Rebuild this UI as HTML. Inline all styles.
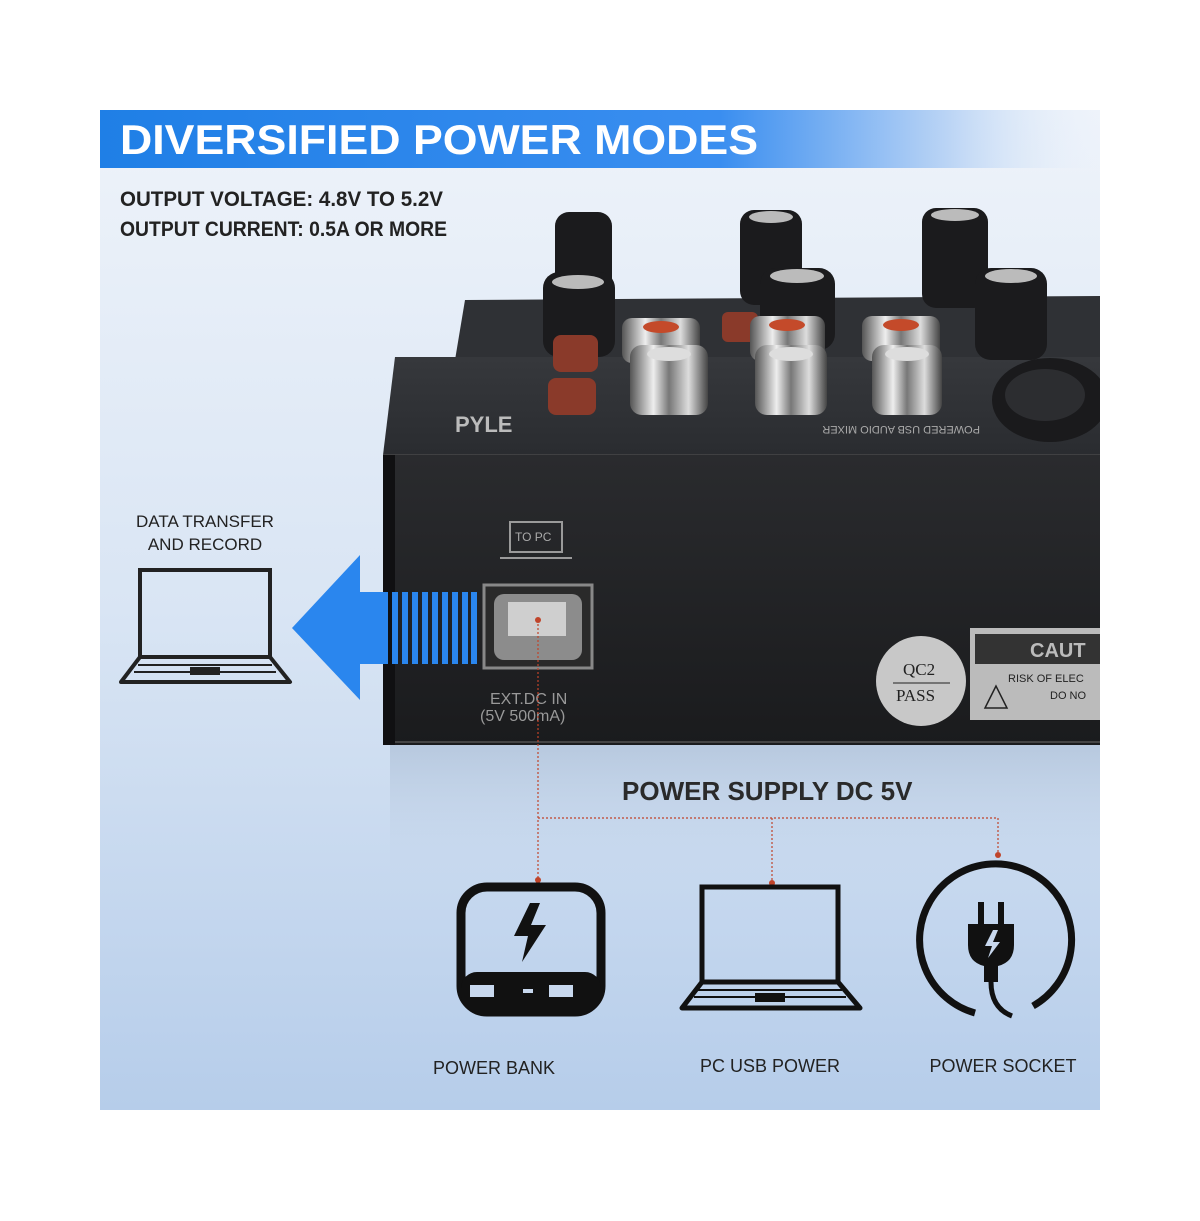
<!DOCTYPE html>
<html><head><meta charset="utf-8"><style>
html,body{margin:0;padding:0;background:#fff;}
svg{display:block}
</style></head><body>
<svg width="1200" height="1221" viewBox="0 0 1200 1221" xmlns="http://www.w3.org/2000/svg" font-family="Liberation Sans, sans-serif">
<defs>
<linearGradient id="bg" x1="0" y1="0" x2="0" y2="1">
<stop offset="0" stop-color="#eef3fa"/><stop offset="0.5" stop-color="#d9e5f4"/><stop offset="1" stop-color="#b6cdea"/></linearGradient>
<linearGradient id="hdr" x1="0" y1="0" x2="1" y2="0">
<stop offset="0" stop-color="#1f7fe6"/><stop offset="0.62" stop-color="#3a8ef0"/><stop offset="0.85" stop-color="#bcd5f5"/><stop offset="1" stop-color="#e8f0fa" stop-opacity="0"/></linearGradient>
<linearGradient id="face" x1="0" y1="0" x2="0" y2="1">
<stop offset="0" stop-color="#2a2b2e"/><stop offset="1" stop-color="#1a1b1d"/></linearGradient>
<linearGradient id="top" x1="0" y1="0" x2="0" y2="1">
<stop offset="0" stop-color="#36383c"/><stop offset="1" stop-color="#2a2c30"/></linearGradient>
<linearGradient id="chrome" x1="0" y1="0" x2="1" y2="0">
<stop offset="0" stop-color="#555"/><stop offset="0.3" stop-color="#eee"/><stop offset="0.5" stop-color="#777"/><stop offset="0.75" stop-color="#ddd"/><stop offset="1" stop-color="#444"/></linearGradient>
<linearGradient id="refl" x1="0" y1="0" x2="0" y2="1">
<stop offset="0" stop-color="#9fb3cc" stop-opacity="0.5"/><stop offset="1" stop-color="#c9d8ec" stop-opacity="0"/></linearGradient>
<clipPath id="pc"><rect x="100" y="110" width="1000" height="1000"/></clipPath>
</defs>
<rect x="100" y="110" width="1000" height="1000" fill="url(#bg)"/>
<rect x="100" y="110" width="1000" height="58" fill="url(#hdr)"/>
<text x="120" y="154" font-size="42" font-weight="bold" fill="#fff" textLength="638" lengthAdjust="spacingAndGlyphs">DIVERSIFIED POWER MODES</text>
<text x="120" y="206" font-size="21" font-weight="bold" fill="#222" textLength="323" lengthAdjust="spacingAndGlyphs">OUTPUT VOLTAGE: 4.8V TO 5.2V</text>
<text x="120" y="236" font-size="21" font-weight="bold" fill="#222" textLength="327" lengthAdjust="spacingAndGlyphs">OUTPUT CURRENT: 0.5A OR MORE</text>

<g clip-path="url(#pc)">
<rect x="390" y="745" width="710" height="140" fill="url(#refl)"/>

<polygon points="465,300 1100,296 1100,360 455,360" fill="#2f3135"/>
<polygon points="395,357 1100,357 1100,455 383,455" fill="url(#top)"/>
<g fill="#1b1b1d">
<rect x="555" y="212" width="57" height="90" rx="14"/>
<rect x="740" y="210" width="62" height="95" rx="14"/>
<rect x="922" y="208" width="66" height="100" rx="14"/>
<rect x="543" y="272" width="72" height="85" rx="16"/>
<rect x="760" y="268" width="75" height="82" rx="16"/>
<rect x="975" y="268" width="72" height="92" rx="16"/>
</g>
<g fill="#bbb"><ellipse cx="578" cy="282" rx="26" ry="7"/><ellipse cx="797" cy="276" rx="27" ry="7"/><ellipse cx="1011" cy="276" rx="26" ry="7"/><ellipse cx="771" cy="217" rx="22" ry="6"/><ellipse cx="955" cy="215" rx="24" ry="6"/></g>
<g fill="#8a3a2a"><rect x="553" y="335" width="45" height="37" rx="8"/><rect x="548" y="378" width="48" height="37" rx="8"/><rect x="722" y="312" width="36" height="30" rx="6"/></g>
<g fill="url(#chrome)">
<rect x="622" y="318" width="78" height="45" rx="10"/><rect x="750" y="316" width="75" height="45" rx="10"/><rect x="862" y="316" width="78" height="45" rx="10"/>
<rect x="630" y="345" width="78" height="70" rx="12"/><rect x="755" y="345" width="72" height="70" rx="12"/><rect x="872" y="345" width="70" height="70" rx="12"/>
</g>
<g fill="#c44a2a"><ellipse cx="661" cy="327" rx="18" ry="6"/><ellipse cx="787" cy="325" rx="18" ry="6"/><ellipse cx="901" cy="325" rx="18" ry="6"/></g>
<g fill="#ddd"><ellipse cx="669" cy="354" rx="22" ry="7"/><ellipse cx="791" cy="354" rx="22" ry="7"/><ellipse cx="907" cy="354" rx="22" ry="7"/></g>
<ellipse cx="1050" cy="400" rx="58" ry="42" fill="#1a1a1c"/>
<ellipse cx="1045" cy="395" rx="40" ry="26" fill="#2c2d30"/>
<text x="620" y="438" font-size="11" fill="#aaa" transform="rotate(180 800 432)">POWERED USB AUDIO MIXER</text>
<text x="455" y="432" font-size="22" font-weight="bold" fill="#bbb">PYLE</text>
<line x1="383" y1="455" x2="1100" y2="455" stroke="#555" stroke-width="1"/>

<rect x="383" y="455" width="717" height="290" fill="url(#face)"/>
<rect x="383" y="455" width="12" height="290" fill="#101012"/>
<line x1="395" y1="742" x2="1100" y2="742" stroke="#444" stroke-width="2"/>

<rect x="510" y="522" width="52" height="30" fill="none" stroke="#9a9a9a" stroke-width="2"/>
<text x="515" y="541" font-size="12" fill="#aaa">TO PC</text>
<line x1="500" y1="558" x2="572" y2="558" stroke="#9a9a9a" stroke-width="2"/>
<rect x="484" y="585" width="108" height="83" fill="#2a2a2a" stroke="#888" stroke-width="3"/>
<rect x="494" y="594" width="88" height="66" rx="10" fill="#8c8c8c"/>
<rect x="508" y="602" width="58" height="34" fill="#cfcfcf"/>
<text x="490" y="704" font-size="16" fill="#999">EXT.DC IN</text>
<text x="480" y="721" font-size="16" fill="#999">(5V 500mA)</text>

<circle cx="921" cy="681" r="45" fill="#c8c8c8"/>
<text x="903" y="675" font-size="17" font-family="Liberation Serif, serif" fill="#222">QC2</text>
<line x1="893" y1="683" x2="950" y2="683" stroke="#222"/>
<text x="896" y="701" font-size="17" font-family="Liberation Serif, serif" fill="#222">PASS</text>
<rect x="970" y="628" width="130" height="92" fill="#bbb"/>
<rect x="975" y="634" width="125" height="30" fill="#333"/>
<text x="1030" y="657" font-size="20" font-weight="bold" fill="#bbb">CAUT</text>
<text x="1008" y="682" font-size="11" fill="#222">RISK OF ELEC</text>
<text x="1050" y="699" font-size="11" fill="#222">DO NO</text>
<polygon points="996,686 985,708 1007,708" fill="none" stroke="#222" stroke-width="1.5"/>
</g>

<polygon points="292,628 360,555 360,700" fill="#2a86ee"/>
<rect x="358" y="592" width="30" height="72" fill="#2a86ee"/>
<g fill="#2a86ee">
<rect x="392" y="592" width="6" height="72"/><rect x="402" y="592" width="6" height="72"/><rect x="412" y="592" width="6" height="72"/><rect x="422" y="592" width="6" height="72"/><rect x="432" y="592" width="6" height="72"/><rect x="442" y="592" width="6" height="72"/><rect x="452" y="592" width="6" height="72"/><rect x="462" y="592" width="6" height="72"/><rect x="471" y="592" width="6" height="72"/>
</g>

<text x="205" y="527" font-size="17" fill="#222" text-anchor="middle">DATA TRANSFER</text>
<text x="205" y="550" font-size="17" fill="#222" text-anchor="middle">AND RECORD</text>
<rect x="140" y="570" width="130" height="87" fill="none" stroke="#222" stroke-width="4"/>
<polygon points="140,657 270,657 290,682 121,682" fill="none" stroke="#222" stroke-width="4" stroke-linejoin="round"/>
<line x1="138" y1="665" x2="272" y2="665" stroke="#222" stroke-width="2"/>
<line x1="134" y1="672" x2="276" y2="672" stroke="#222" stroke-width="2"/>
<rect x="190" y="667" width="30" height="8" fill="#222"/>

<g stroke="#c0442a" stroke-width="1.2" stroke-dasharray="2,2" fill="none">
<path d="M538,620 V880"/>
<path d="M538,818 H998 V855"/>
<path d="M772,818 V883"/>
</g>
<g fill="#c0442a"><circle cx="538" cy="620" r="3"/><circle cx="538" cy="880" r="3"/><circle cx="772" cy="883" r="3"/><circle cx="998" cy="855" r="3"/></g>
<text x="622" y="800" font-size="26" font-weight="bold" fill="#2a2a2a">POWER SUPPLY DC 5V</text>

<rect x="461" y="887" width="140" height="125" rx="26" fill="none" stroke="#111" stroke-width="9"/>
<rect x="461" y="972" width="140" height="40" rx="16" fill="#111"/>
<rect x="470" y="985" width="24" height="12" fill="#c8d8ee"/><rect x="523" y="989" width="10" height="4" fill="#c8d8ee"/><rect x="549" y="985" width="24" height="12" fill="#c8d8ee"/>
<polygon points="530,903 514,936 528,936 522,962 546,925 531,925 540,903" fill="#111"/>
<text x="494" y="1074" font-size="18" fill="#222" text-anchor="middle">POWER BANK</text>

<rect x="702" y="887" width="136" height="95" fill="none" stroke="#111" stroke-width="5"/>
<polygon points="702,982 838,982 860,1008 682,1008" fill="none" stroke="#111" stroke-width="5" stroke-linejoin="round"/>
<line x1="698" y1="990" x2="842" y2="990" stroke="#111" stroke-width="2"/>
<line x1="694" y1="997" x2="846" y2="997" stroke="#111" stroke-width="2"/>
<rect x="755" y="993" width="30" height="9" fill="#111"/>
<text x="770" y="1072" font-size="18" fill="#222" text-anchor="middle">PC USB POWER</text>

<path d="M1033,1006 A76,76 0 1,0 975,1013" fill="none" stroke="#111" stroke-width="7"/>
<rect x="978" y="902" width="6" height="24" fill="#111"/><rect x="998" y="902" width="6" height="24" fill="#111"/>
<path d="M968,924 H1014 V945 Q1014,962 998,966 H984 Q968,962 968,945 Z" fill="#111"/>
<rect x="984" y="966" width="14" height="16" fill="#111"/>
<path d="M991,982 Q991,1008 1012,1016" fill="none" stroke="#111" stroke-width="5"/>
<polygon points="993,930 985,946 992,946 988,958 1000,942 993,942 998,930" fill="#c8d8ee"/>
<text x="1003" y="1072" font-size="18" fill="#222" text-anchor="middle">POWER SOCKET</text>
</svg>
</body></html>
